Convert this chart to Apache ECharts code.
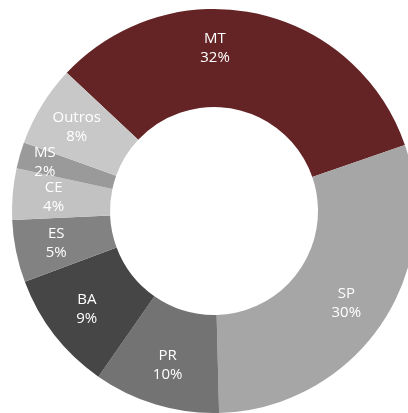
<!DOCTYPE html>
<html>
<head>
<meta charset="utf-8">
<script src="https://cdn.jsdelivr.net/npm/echarts@6/dist/echarts.min.js"></script>
<style>
  html, body { margin: 0; padding: 0; background: #fff; }
  #chart { width: 408px; height: 413px; }
</style>
</head>
<body>
<div id="chart"></div>
<script>
// estados e participação
const states = ['MT', 'SP', 'PR', 'BA', 'ES', 'CE', 'MS', 'Outros']
const shares = [32.7, 29.9, 10.1, 9.6, 5.0, 4.1, 2.1, 6.5]
// rótulos percentuais exibidos na figura
const pctLabels = [32, 30, 10, 9, 5, 4, 2, 8]
const colors = ['#642425', '#a6a6a6', '#737373', '#464646', '#828282', '#c2c2c2', '#9a9a9a', '#c8c8c8']

const cx = 214
const cy = 211

const chart = echarts.init(document.getElementById('chart'))

const option = {
  animation: false,
  series: [
    {
      type: 'pie',
      center: [cx, cy],
      radius: [104, 202],
      startAngle: 136.8,
      clockwise: true,
      avoidLabelOverlap: false,
      itemStyle: {
        borderWidth: 0,
      },
      label: {
        show: true,
        position: 'inside',
        color: '#ffffff',
        fontFamily: 'Open Sans',
        fontSize: 15,
        lineHeight: 19,
        formatter: (p) => p.name + '\n' + pctLabels[p.dataIndex] + '%',
      },
      labelLine: { show: false },
      // empurra os rótulos um pouco para fora do meio do anel
      labelLayout: (params) => {
        const r = params.labelRect
        const lx = r.x + r.width / 2
        const ly = r.y + r.height / 2
        const vx = lx - cx
        const vy = ly - cy
        const d = Math.sqrt(vx * vx + vy * vy)
        if (params.dataIndex === 0) {
          // MT fica centralizado no topo
          return { dx: cx + 1 - lx, dy: cy - 163 - ly }
        }
        const target = params.dataIndex === 6 ? 176 : 161
        return { dx: vx * (target / d - 1), dy: vy * (target / d - 1) }
      },
      emphasis: { disabled: true },
      data: states.map((name, i) => ({
        name: name,
        value: shares[i],
        itemStyle: { color: colors[i] },
      })),
    },
  ],
}

chart.setOption(option)
</script>
</body>
</html>
